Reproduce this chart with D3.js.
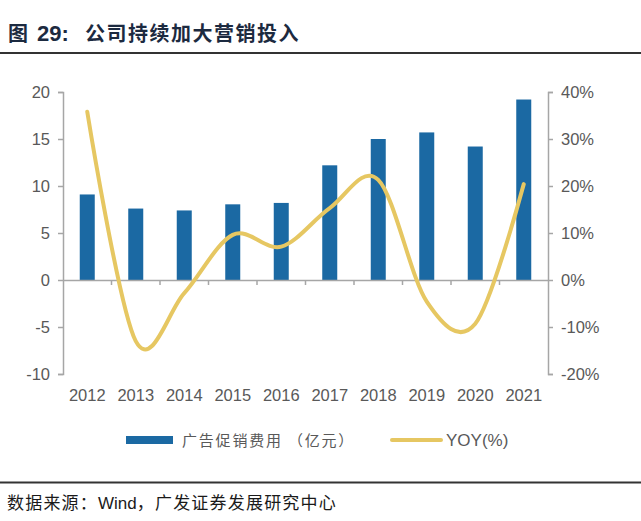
<!DOCTYPE html>
<html><head><meta charset="utf-8">
<script src="https://cdn.jsdelivr.net/npm/d3@7"></script>
<style>
body{margin:0;background:#fff;}
text{font-family:Arial,"Liberation Sans","Noto Sans CJK SC",sans-serif;}
.cjk{font-family:"Noto Sans CJK SC",sans-serif;}
</style></head>
<body><svg id="c" width="641" height="521"></svg>
<script>
const years = ["2012","2013","2014","2015","2016","2017","2018","2019","2020","2021"];
const adExpense = [9.1, 7.6, 7.4, 8.05, 8.2, 12.2, 15.0, 15.7, 14.2, 19.2];
const yoy = [35.8, -13.0, -2.8, 9.6, 7.1, 15.3, 21.3, -4.6, -9.3, 20.4];
const leftTicks = [-10, -5, 0, 5, 10, 15, 20];
const rightTicks = [-20, -10, 0, 10, 20, 30, 40];
const seriesNames = ["广告促销费用 （亿元）", "YOY(%)"];

const svg = d3.select("#c");
const L = 63, R = 548, T = 92, B = 374;
const x = d3.scaleBand().domain(years).range([L, R]);
const yL = d3.scaleLinear().domain([-10, 20]).range([B, T]);
const yR = d3.scaleLinear().domain([-20, 40]).range([B, T]);
const axisColor = "#a6a6a6", txtColor = "#595959";

// Title
svg.append("text").attr("x", 8).attr("y", 41).attr("class","cjk")
  .attr("font-size", 20).attr("font-weight", "bold").attr("fill", "#1c2a40").text("图");
svg.append("text").attr("x", 37).attr("y", 41)
  .attr("font-size", 22).attr("font-weight", "bold").attr("fill", "#1c2a40").text("29:");
svg.append("text").attr("x", 85).attr("y", 41).attr("class","cjk")
  .attr("font-size", 20).attr("font-weight", "bold").attr("letter-spacing", 1.5).attr("fill", "#1c2a40")
  .text("公司持续加大营销投入");
svg.append("line").attr("x1", 0).attr("x2", 641).attr("y1", 53).attr("y2", 53)
  .attr("stroke", "#333").attr("stroke-width", 2);

// Bars
svg.append("g").selectAll("rect").data(years).join("rect")
  .attr("x", d => x(d) + x.bandwidth()/2 - 7.5)
  .attr("width", 15)
  .attr("y", (d,i) => yL(adExpense[i]))
  .attr("height", (d,i) => yL(0) - yL(adExpense[i]))
  .attr("fill", "#1b69a3");

// Left axis
const gl = svg.append("g").attr("transform", `translate(${L},0)`)
  .call(d3.axisLeft(yL).tickValues(leftTicks).tickSize(5).tickPadding(8).tickFormat(d => String(d)));
// Right axis
const gr = svg.append("g").attr("transform", `translate(${R},0)`)
  .call(d3.axisRight(yR).tickValues(rightTicks).tickSize(5).tickPadding(8).tickFormat(d => d + "%"));
[gl, gr].forEach(g => {
  g.select(".domain").attr("stroke", axisColor).attr("stroke-width", 1.5);
  g.selectAll(".tick line").attr("stroke", axisColor).attr("stroke-width", 1.5);
  g.selectAll(".tick text").attr("fill", txtColor).attr("font-size", 16.5)
    .attr("font-family", "Arial, 'Liberation Sans', sans-serif");
});

// Zero line with category ticks
const gx = svg.append("g").attr("transform", `translate(0,${yL(0)})`)
  .call(d3.axisBottom(x).tickSize(0).tickPadding(0).tickFormat(""));
gx.select(".domain").attr("stroke", axisColor).attr("stroke-width", 1.5);
gx.selectAll(".tick").remove();
gx.selectAll(".sep").data(years.slice(1)).join("line")
  .attr("x1", d => x(d)).attr("x2", d => x(d)).attr("y1", 0).attr("y2", 5)
  .attr("stroke", axisColor).attr("stroke-width", 1.5);

// Category labels
svg.append("g").selectAll("text").data(years).join("text")
  .attr("x", d => x(d) + x.bandwidth()/2).attr("y", 401)
  .attr("text-anchor", "middle").attr("font-size", 16.5).attr("fill", txtColor)
  .text(d => d);

// YOY line
const line = d3.line()
  .x((d,i) => x(years[i]) + x.bandwidth()/2)
  .y(d => yR(d))
  .curve(d3.curveCatmullRom.alpha(0));
svg.append("path").datum(yoy).attr("d", line)
  .attr("fill", "none").attr("stroke", "#e6c762").attr("stroke-width", 4)
  .attr("stroke-linecap", "round");

// Legend
svg.append("rect").attr("x", 126).attr("y", 436).attr("width", 47).attr("height", 8).attr("fill", "#1b69a3");
svg.append("text").attr("x", 182).attr("y", 446).attr("class","cjk").attr("font-size", 15)
  .attr("letter-spacing", 1.8).attr("fill", txtColor).text(seriesNames[0]);
svg.append("line").attr("x1", 392).attr("x2", 441).attr("y1", 440).attr("y2", 440)
  .attr("stroke", "#e6c762").attr("stroke-width", 4).attr("stroke-linecap", "round");
svg.append("text").attr("x", 446).attr("y", 446).attr("font-size", 17).attr("fill", txtColor)
  .text(seriesNames[1]);

// Footer
svg.append("line").attr("x1", 0).attr("x2", 641).attr("y1", 482.5).attr("y2", 482.5)
  .attr("stroke", "#333").attr("stroke-width", 2);
const ft = svg.append("text").attr("x", 7).attr("y", 509).attr("class","cjk")
  .attr("font-size", 17).attr("letter-spacing", 1.2).attr("fill", "#1a1a1a");
ft.append("tspan").text("数据来源：");
ft.append("tspan").attr("font-family", "Arial, 'Liberation Sans', sans-serif").attr("letter-spacing", 0).text("Wind");
ft.append("tspan").text("，广发证券发展研究中心");
</script></body></html>
